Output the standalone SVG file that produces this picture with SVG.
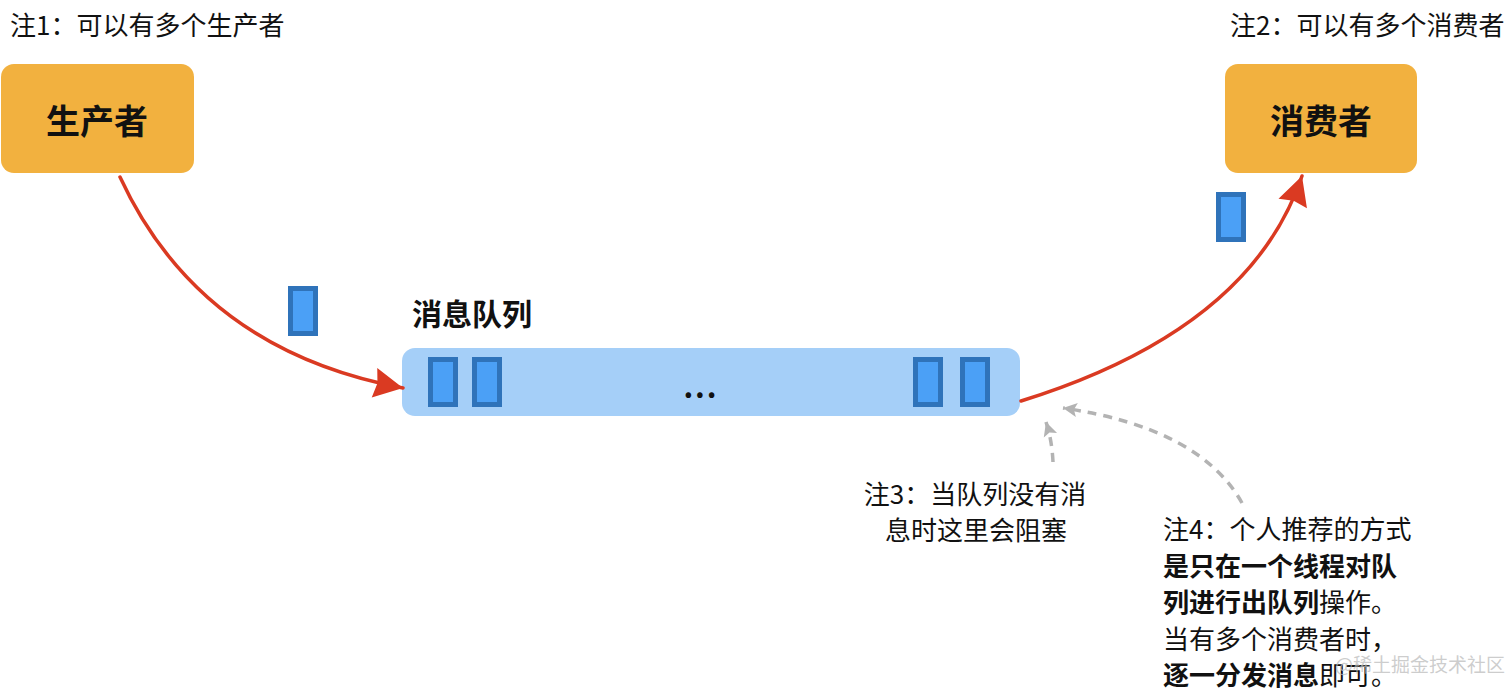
<svg xmlns="http://www.w3.org/2000/svg" width="1512" height="696" viewBox="0 0 1512 696">
<style>
  text { font-family: "Noto Sans CJK SC", "Noto Sans", sans-serif; fill: #111; }
  .note { font-size: 26px; }
  .b { font-weight: 700; }
  .actor { fill: #F2B13F; }
  .actor-label { font-size: 34px; font-weight: 700; text-anchor: middle; }
  .msg { fill: #4BA0F6; stroke: #2F73BA; stroke-width: 5; }
  .flow { fill: none; stroke: #DA3A22; stroke-width: 3.5; stroke-linecap: round; }
  .hint { fill: none; stroke: #B3B3B3; stroke-width: 3.5; stroke-dasharray: 9 7; }
  .wm { font-size: 19px; fill: #bdbdbd; fill-opacity: 0.75; }
</style>
<defs>
  <marker id="redHead" markerUnits="userSpaceOnUse" markerWidth="40" markerHeight="40" viewBox="-32 -20 40 40" refX="0" refY="0" orient="auto">
    <path d="M0,0 L-29,-15 L-26,0 L-29,15 Z" fill="#DA3A22"/>
  </marker>
  <marker id="grayHead" markerUnits="userSpaceOnUse" markerWidth="20" markerHeight="20" viewBox="-16 -10 20 20" refX="0" refY="0" orient="auto">
    <path d="M0,0 L-14,-7 L-11,0 L-14,7 Z" fill="#B3B3B3"/>
  </marker>
</defs>

<rect width="1512" height="696" fill="#ffffff"/>

<g id="note1"><text class="note" x="10" y="23" dominant-baseline="central">注1：可以有多个生产者</text></g>
<g id="note2"><text class="note" x="1230" y="23" dominant-baseline="central">注2：可以有多个消费者</text></g>

<g id="producer">
  <rect class="actor" x="1" y="64" width="193" height="109" rx="13"/>
  <text class="actor-label" x="97" y="119" dominant-baseline="central">生产者</text>
</g>

<g id="consumer">
  <rect class="actor" x="1225" y="64" width="192" height="109" rx="13"/>
  <text class="actor-label" x="1321" y="119" dominant-baseline="central">消费者</text>
</g>

<g id="queue">
  <text class="b" x="412" y="312" font-size="30" dominant-baseline="central">消息队列</text>
  <rect x="402" y="348" width="618" height="68" rx="13" fill="#A5CFF8"/>
  <rect class="msg" x="430.5" y="359.5" width="25" height="45"/>
  <rect class="msg" x="474.5" y="359.5" width="25" height="45"/>
  <text class="b" x="701" y="385" font-size="30" letter-spacing="2" text-anchor="middle" dominant-baseline="central">...</text>
  <rect class="msg" x="915.5" y="359.5" width="25" height="45"/>
  <rect class="msg" x="962.5" y="359.5" width="25" height="45"/>
</g>

<g id="msg-in"><rect class="msg" x="290.5" y="288.5" width="25" height="45"/></g>
<g id="msg-out"><rect class="msg" x="1218.5" y="194.5" width="25" height="45"/></g>

<g id="connectors">
  <path class="flow" d="M120,177 Q200,350 403,388" marker-end="url(#redHead)"/>
  <path class="flow" d="M1021,401 Q1250,330 1302,176" marker-end="url(#redHead)"/>
  <path class="hint" d="M1053,462 Q1052,440 1046,422" marker-end="url(#grayHead)"/>
  <path class="hint" d="M1242,503 Q1200,428 1063,408" marker-end="url(#grayHead)"/>
</g>

<g id="note3">
  <text class="note" x="975" y="492" text-anchor="middle" dominant-baseline="central">注3：当队列没有消</text>
  <text class="note" x="976" y="528" text-anchor="middle" dominant-baseline="central">息时这里会阻塞</text>
</g>

<g id="note4">
  <text class="note" x="1163" y="527" dominant-baseline="central">注4：个人推荐的方式</text>
  <text class="note b" x="1163" y="564" dominant-baseline="central">是只在一个线程对队</text>
  <text class="note" x="1163" y="600" dominant-baseline="central"><tspan class="b">列进行出队列</tspan>操作。</text>
  <text class="note" x="1163" y="637" dominant-baseline="central">当有多个消费者时，</text>
  <text class="note" x="1163" y="673" dominant-baseline="central"><tspan class="b">逐一分发消息</tspan>即可。</text>
</g>

<g id="watermark"><text class="wm" x="1335" y="663" dominant-baseline="central">@稀土掘金技术社区</text></g>
</svg>
